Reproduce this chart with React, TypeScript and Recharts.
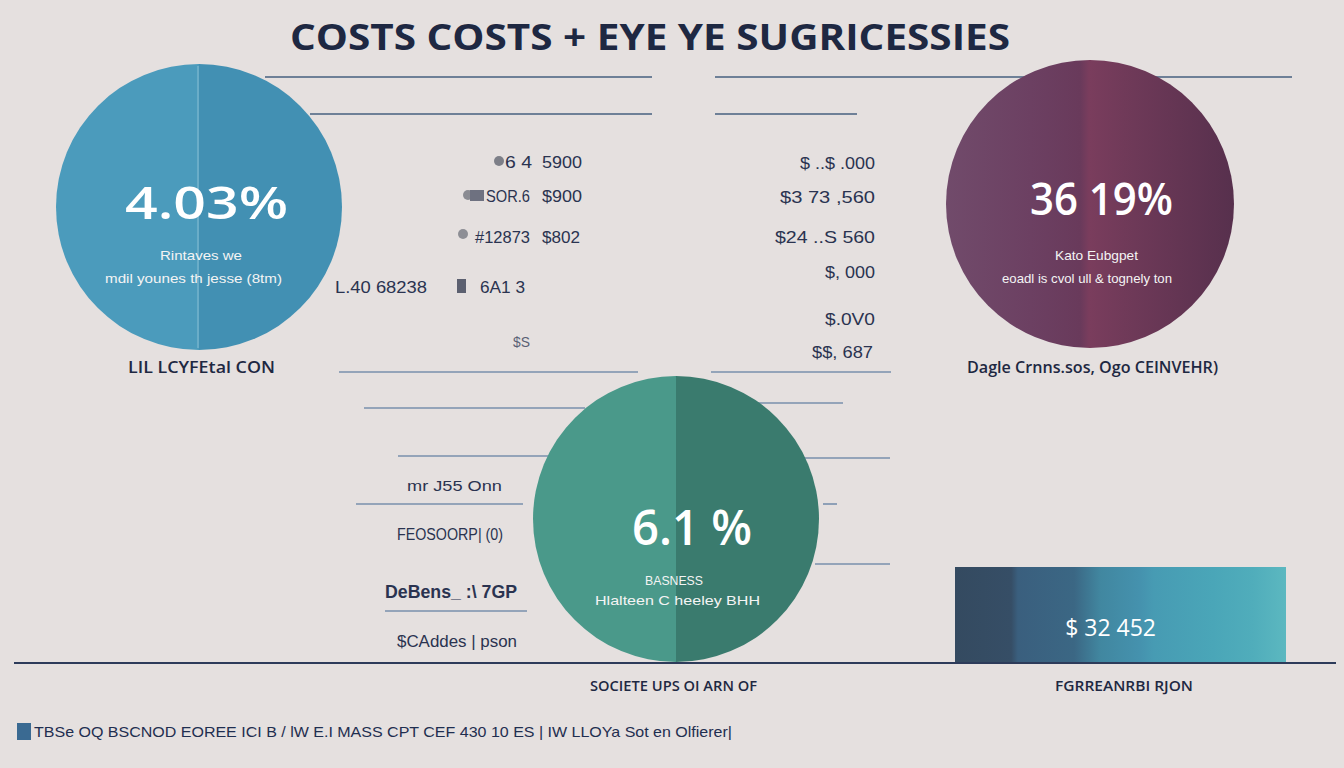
import React from 'react';
import { PieChart, Pie, Cell, BarChart, Bar, XAxis, YAxis, LabelList } from 'recharts';

// ---------- data ----------
const titleText = 'COSTS COSTS + EYE YE  SUGRICESSIES';
const circlePercents = ['4.03%', '36 19%', '6.1 %'];
const circleCaptionsTop = ['Rintaves we', 'Kato Eubgpet', 'BASNESS'];
const circleCaptionsBottom = ['mdil younes th jesse (8tm)', 'eoadl is cvol ull & tognely ton', 'Hlalteen C heeley BHH'];
const circleTitles = ['LIL  LCYFEtal CON', 'Dagle Crnns.sos, Ogo CEINVEHR)', 'SOCIETE UPS OI ARN OF'];
const halfShares = [
  { name: 'right', value: 50 },
  { name: 'left', value: 50 },
];
const leftColumnLabels = ['G6 4', 'SOR.6', '#12873', 'L.40 68238', '6A1 3', '$S'];
const leftColumnValues = ['5900', '$900', '$802'];
const rightColumnValues = ['$ ..$ .000', '$3 73 ,560', '$24 ..S 560', '$, 000', '$.0V0', '$$, 687'];
const sideLabels = ['mr J55 Onn', 'FEOSOORP| (0)', 'DeBens_ :\\ 7GP', '$CAddes | pson'];
const barCategories = ['FGRREANRBI RJON'];
const barValues = [32452];
const footnote = 'TBSe OQ BSCNOD EOREE ICI B / lW E.I MASS CPT CEF 430 10 ES | IW LLOYa Sot en Olfierer|';

const barData = barCategories.map((name, i) => ({ name, value: barValues[i] }));

// ---------- layout / style ----------
const BG = '#e5e0df';
const NAVY = '#1e2842';
const TEXT = '#2a3350';

const circles = [
  { cx: 199, cy: 207, r: 143, fills: ['#4290b3', '#4b9bbc'] },
  { cx: 1090, cy: 204, r: 144, fills: ['url(#purpleGrad)', 'url(#purpleGrad)'] },
  { cx: 676, cy: 519, r: 143, fills: ['#3a7b6e', '#4a998a'] },
];

const circleText = [
  { pct: { x: 125, y: 219, w: 163, s: 46 }, c1: { x: 160, y: 260, w: 82 }, c2: { x: 105, y: 283, w: 177 }, t: { x: 128, y: 373, w: 147 } },
  { pct: { x: 1030, y: 215, w: 143, s: 46 }, c1: { x: 1055, y: 260, w: 83 }, c2: { x: 1002, y: 283, w: 170 }, t: { x: 967, y: 373, w: 251 } },
  { pct: { x: 632, y: 545, w: 120, s: 48 }, c1: { x: 645, y: 585, w: 58 }, c2: { x: 595, y: 605, w: 165 }, t: { x: 590, y: 691, w: 167 } },
];

const topLines = [
  [265, 77, 652], [715, 77, 1292], [310, 114, 652], [715, 114, 857],
];
const midLines = [
  [339, 372, 638], [711, 372, 891], [364, 408, 585], [758, 403, 843],
  [398, 456, 548], [804, 458, 890], [356, 504, 523], [823, 504, 837],
  [815, 564, 890], [385, 611, 527],
];

function T({ x, y, w, size, weight = 400, fill = TEXT, family = 'Liberation Sans', children }: any) {
  return (
    <text
      x={x}
      y={y}
      textLength={w}
      lengthAdjust="spacingAndGlyphs"
      fontSize={size}
      fontWeight={weight}
      fill={fill}
      fontFamily={family}
    >
      {children}
    </text>
  );
}

function formatMoney(v: any) {
  return '$ ' + String(v).replace(/\B(?=(\d{3})+(?!\d))/g, ' ');
}

function BarValueLabel(props: any) {
  const { x, y, width, height, value } = props;
  return (
    <text
      x={x + width * 0.47}
      y={y + height * 0.72}
      textAnchor="middle"
      fill="#ffffff"
      fontSize={23}
      fontWeight={500}
      fontFamily="Open Sans"
    >
      {formatMoney(value)}
    </text>
  );
}

export default function App() {
  return (
    <div
      style={{
        position: 'absolute',
        left: 0,
        top: 0,
        width: 1344,
        height: 768,
        background: BG,
        overflow: 'hidden',
      }}
    >
      {/* background lines */}
      <svg width={1344} height={768} style={{ position: 'absolute', left: 0, top: 0 }}>
        {topLines.map(([x1, y, x2], i) => (
          <line key={'t' + i} x1={x1} x2={x2} y1={y} y2={y} stroke="#46607f" strokeWidth={1.6} />
        ))}
        {midLines.map(([x1, y, x2], i) => (
          <line key={'m' + i} x1={x1} x2={x2} y1={y} y2={y} stroke="#7890ad" strokeWidth={1.6} />
        ))}
      </svg>

      {/* circles */}
      {circles.map((c, i) => {
        const size = c.r * 2 + 4;
        return (
          <div key={i} style={{ position: 'absolute', left: c.cx - size / 2, top: c.cy - size / 2 }}>
            <PieChart width={size} height={size} margin={{ top: 0, right: 0, bottom: 0, left: 0 }}>
              <defs>
                <linearGradient id="purpleGrad" gradientUnits="userSpaceOnUse" x1={0} y1={0} x2={size} y2={0}>
                  <stop offset="0" stopColor="#714b6b" />
                  <stop offset="0.3" stopColor="#6c4062" />
                  <stop offset="0.47" stopColor="#693a5b" />
                  <stop offset="0.5" stopColor="#7a3d5d" />
                  <stop offset="0.62" stopColor="#703a59" />
                  <stop offset="1" stopColor="#57304d" />
                </linearGradient>
              </defs>
              <Pie
                data={halfShares}
                dataKey="value"
                nameKey="name"
                cx="50%"
                cy="50%"
                innerRadius={0}
                outerRadius={c.r}
                startAngle={90}
                endAngle={-270}
                stroke="none"
                isAnimationActive={false}
              >
                {halfShares.map((d, j) => (
                  <Cell key={d.name} fill={c.fills[j]} />
                ))}
              </Pie>
            </PieChart>
          </div>
        );
      })}

      {/* seam on blue circle */}
      <div
        style={{
          position: 'absolute',
          left: circles[0].cx - 2,
          top: circles[0].cy - circles[0].r + 2,
          width: 2,
          height: circles[0].r * 2 - 4,
          background: '#72b2cb',
          opacity: 0.8,
        }}
      />

      {/* gradient bar */}
      <div style={{ position: 'absolute', left: 955, top: 567 }}>
        <BarChart
          width={331}
          height={96}
          data={barData}
          layout="vertical"
          margin={{ top: 0, right: 0, bottom: 0, left: 0 }}
          barCategoryGap="0%"
          barGap={0}
        >
          <defs>
            <linearGradient id="barGrad" x1="0" y1="0" x2="1" y2="0">
              <stop offset="0" stopColor="#344a60" />
              <stop offset="0.17" stopColor="#364e66" />
              <stop offset="0.19" stopColor="#3a5f7e" />
              <stop offset="0.36" stopColor="#3b6784" />
              <stop offset="0.44" stopColor="#4187a0" />
              <stop offset="0.56" stopColor="#4592ae" />
              <stop offset="0.6" stopColor="#479bb3" />
              <stop offset="0.78" stopColor="#4aa6b8" />
              <stop offset="0.9" stopColor="#50adbb" />
              <stop offset="1" stopColor="#5cb8c0" />
            </linearGradient>
          </defs>
          <XAxis type="number" hide domain={[0, 'dataMax']} />
          <YAxis type="category" dataKey="name" hide />
          <Bar dataKey="value" fill="url(#barGrad)" isAnimationActive={false}>
            <LabelList dataKey="value" content={BarValueLabel} />
          </Bar>
        </BarChart>
      </div>

      {/* text overlay */}
      <svg width={1344} height={768} style={{ position: 'absolute', left: 0, top: 0, pointerEvents: 'none' }}>
        {/* baseline */}
        <line x1={14} x2={1336} y1={663} y2={663} stroke="#2d3b5a" strokeWidth={2} />

        {/* title */}
        <T x={290} y={50} w={720} size={36} weight={700} fill={NAVY} family="Open Sans">
          {titleText}
        </T>

        {/* circle texts */}
        {circleText.map((ct, i) => (
          <g key={i}>
            <T x={ct.pct.x} y={ct.pct.y} w={ct.pct.w} size={ct.pct.s} weight={600} fill="#ffffff" family="Open Sans">
              {circlePercents[i]}
            </T>
            <T x={ct.c1.x} y={ct.c1.y} w={ct.c1.w} size={13} fill="#f4f4f4">
              {circleCaptionsTop[i]}
            </T>
            <T x={ct.c2.x} y={ct.c2.y} w={ct.c2.w} size={13} fill="#f4f4f4">
              {circleCaptionsBottom[i]}
            </T>
            <T x={ct.t.x} y={ct.t.y} w={ct.t.w} size={i === 2 ? 15 : 17} weight={600} fill={NAVY} family="Open Sans">
              {circleTitles[i]}
            </T>
          </g>
        ))}

        {/* left middle column */}
        <circle cx={499} cy={161} r={5} fill="#7d7f88" />
        <T x={505} y={168} w={27} size={17}>{leftColumnLabels[0].slice(1)}</T>
        <T x={542} y={168} w={40} size={17}>{leftColumnValues[0]}</T>

        <circle cx={468} cy={195} r={5} fill="#8a8b92" />
        <rect x={470} y={190} width={14} height={11} fill="#6e7180" />
        <T x={486} y={202} w={44} size={17}>{leftColumnLabels[1]}</T>
        <T x={542} y={202} w={40} size={17}>{leftColumnValues[1]}</T>

        <circle cx={463} cy={234} r={5} fill="#8d8e95" />
        <T x={475} y={243} w={55} size={17}>{leftColumnLabels[2]}</T>
        <T x={542} y={243} w={38} size={17}>{leftColumnValues[2]}</T>

        <T x={335} y={293} w={92} size={17}>{leftColumnLabels[3]}</T>
        <rect x={457} y={279} width={9} height={14} fill="#5c6070" />
        <T x={480} y={293} w={45} size={17}>{leftColumnLabels[4]}</T>
        <T x={513} y={347} w={17} size={15} fill="#5a6075">{leftColumnLabels[5]}</T>

        {/* right middle column */}
        {rightColumnValues.map((v, i) => {
          const pos = [
            { x: 800, y: 169, w: 75 },
            { x: 780, y: 203, w: 95 },
            { x: 775, y: 243, w: 100 },
            { x: 825, y: 278, w: 50 },
            { x: 825, y: 325, w: 50 },
            { x: 812, y: 358, w: 61 },
          ][i];
          return (
            <T key={i} x={pos.x} y={pos.y} w={pos.w} size={17}>
              {v}
            </T>
          );
        })}

        {/* side labels left of green circle */}
        {sideLabels.map((v, i) => {
          const pos = [
            { x: 407, y: 491, w: 95, s: 15, wt: 400 },
            { x: 397, y: 540, w: 106, s: 16, wt: 400 },
            { x: 385, y: 598, w: 132, s: 18, wt: 600 },
            { x: 397, y: 647, w: 120, s: 16, wt: 400 },
          ][i];
          return (
            <T key={i} x={pos.x} y={pos.y} w={pos.w} size={pos.s} weight={pos.wt}>
              {v}
            </T>
          );
        })}

        {/* bar category */}
        <T x={1055} y={691} w={138} size={15} weight={600} fill={NAVY} family="Open Sans">
          {barCategories[0]}
        </T>

        {/* footnote */}
        <rect x={17} y={723} width={14} height={17} fill="#3a6a92" />
        <T x={34} y={737} w={698} size={15} fill="#1f2e50">
          {footnote}
        </T>
      </svg>
    </div>
  );
}
